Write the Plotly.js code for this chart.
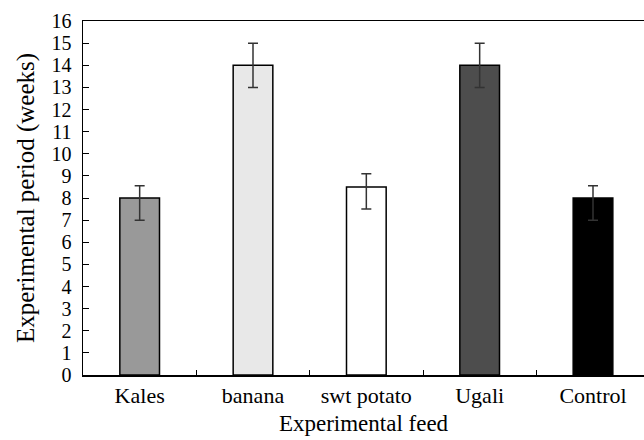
<!DOCTYPE html>
<html>
<head>
<meta charset="utf-8">
<script src="https://cdn.plot.ly/plotly-3.0.1.min.js"></script>
<style>
html,body{margin:0;padding:0;background:#fff;}
#chart{width:644px;height:440px;}
</style>
</head>
<body>
<div id="chart"></div>
<script>
var feeds = ["Kales", "banana", "swt potato", "Ugali", "Control"];
var periodWeeks = [8, 14, 8.5, 14, 8];
var errorPlus = [0.55, 1.0, 0.6, 1.0, 0.55];
var errorMinus = [1.0, 1.0, 1.0, 1.0, 1.0];
var barColors = ["#999999", "#e8e8e8", "#ffffff", "#4d4d4d", "#000000"];
var yTicks = [0,1,2,3,4,5,6,7,8,9,10,11,12,13,14,15,16];

var trace = {
  type: "bar",
  x: feeds,
  y: periodWeeks,
  width: 0.35,
  marker: {color: barColors, line: {color: "#000", width: 1.5}},
  error_y: {type: "data", symmetric: false, array: errorPlus, arrayminus: errorMinus,
            color: "#333", thickness: 1.5, width: 5},
  hoverinfo: "none"
};

var fam = "Liberation Serif, Times New Roman, serif";

var layout = {
  width: 644, height: 440,
  margin: {l: 83, r: 0, t: 21, b: 65, pad: 0},
  paper_bgcolor: "#fff", plot_bgcolor: "#fff",
  showlegend: false,
  font: {family: fam, color: "#000", size: 20},
  xaxis: {
    type: "category",
    range: [-0.5, 4.45],
    showline: true, linecolor: "#000", linewidth: 1.5, mirror: true,
    ticks: "inside", tickson: "boundaries", ticklen: 5, tickcolor: "#000", tickwidth: 1,
    showgrid: false, zeroline: false,
    tickfont: {family: fam, size: 22, color: "#000"},
    title: {text: "Experimental feed", font: {family: fam, size: 23, color: "#000"}, standoff: 8}
  },
  yaxis: {
    range: [0, 16],
    tickvals: yTicks,
    ticktext: yTicks.map(String),
    showline: true, linecolor: "#000", linewidth: 1.5, mirror: false,
    ticks: "inside", ticklen: 6, tickcolor: "#000", tickwidth: 1,
    showgrid: false, zeroline: false,
    ticklabelstandoff: 6,
    tickfont: {family: fam, size: 20, color: "#000"},
    title: {text: "Experimental period (weeks)", font: {family: fam, size: 25, color: "#000"}, standoff: 10}
  }
};

Plotly.newPlot("chart", [trace], layout, {staticPlot: true, displayModeBar: false});
</script>
</body>
</html>
